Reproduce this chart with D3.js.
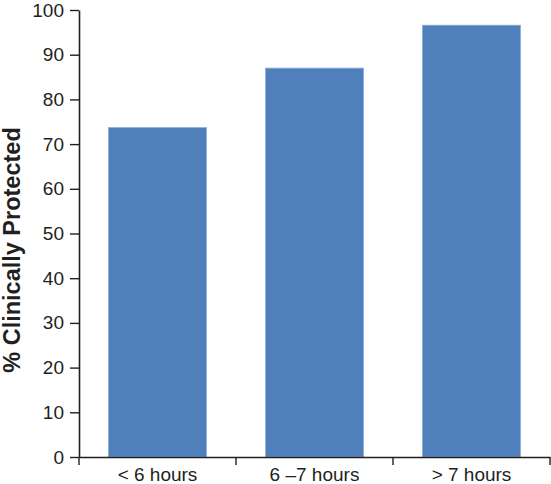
<!DOCTYPE html>
<html>
<head>
  <title>Clinically Protected</title>
  <script src="https://d3js.org/d3.v7.min.js"></script>
  <style>
    body { margin: 0; background: #fff; }
    text { font-family: "Liberation Sans", Arial, sans-serif; fill: #231f20; }
  </style>
</head>
<body>
  <div id="chart"></div>
  <script>
    // Data
    const categories = ["< 6 hours", "6 \u20137 hours", "> 7 hours"];
    const protectedPct = [73.7, 87.0, 96.6];
    const yTicks = [0, 10, 20, 30, 40, 50, 60, 70, 80, 90, 100];
    const yTitle = "% Clinically Protected";

    const width = 551, height = 484;
    const plotLeft = 79, plotRight = 550, plotTop = 10, plotBottom = 457;

    const svg = d3.select("#chart")
      .append("svg")
      .attr("width", width)
      .attr("height", height);

    const x = d3.scaleBand()
      .domain(categories)
      .range([plotLeft, plotRight])
      .paddingInner(0.375)
      .paddingOuter(0.1875);

    const y = d3.scaleLinear()
      .domain([0, 100])
      .range([plotBottom, plotTop]);

    // Bars
    svg.selectAll(".bar")
      .data(protectedPct)
      .enter()
      .append("rect")
      .attr("class", "bar")
      .attr("x", (d, i) => x(categories[i]))
      .attr("width", x.bandwidth())
      .attr("y", d => y(d))
      .attr("height", d => y(0) - y(d))
      .attr("fill", "#4f80bc")
      .attr("stroke", "#8fb0d8")
      .attr("stroke-width", 0.8);

    // Y axis
    const yAxis = svg.append("g")
      .attr("transform", `translate(${plotLeft},0)`)
      .call(d3.axisLeft(y).tickValues(yTicks).tickSize(9).tickPadding(6).tickSizeOuter(0));
    yAxis.select(".domain").attr("stroke", "#231f20").attr("stroke-width", 1.6);
    yAxis.selectAll(".tick line").attr("stroke", "#231f20").attr("stroke-width", 1.4);
    yAxis.selectAll(".tick text")
      .style("font-size", "19px")
      .attr("fill", "#231f20");

    // X axis: labels centred under bars, tick marks at band boundaries
    const xAxis = svg.append("g")
      .attr("transform", `translate(0,${plotBottom})`)
      .call(d3.axisBottom(x).tickSize(0).tickPadding(11).tickSizeOuter(0));
    xAxis.select(".domain").attr("stroke", "#231f20").attr("stroke-width", 1.6);
    xAxis.selectAll(".tick text")
      .style("font-size", "19px")
      .attr("fill", "#231f20");

    const bounds = d3.range(categories.length + 1).map(i => x.range()[0] + i * x.step());
    xAxis.selectAll(".bound")
      .data(bounds)
      .enter()
      .append("line")
      .attr("class", "bound")
      .attr("x1", d => d)
      .attr("x2", d => d)
      .attr("y1", 0)
      .attr("y2", 8)
      .attr("stroke", "#231f20")
      .attr("stroke-width", 1.4);

    // Y title
    svg.append("text")
      .attr("transform", "translate(20,250) rotate(-90)")
      .attr("text-anchor", "middle")
      .style("font-size", "23.5px")
      .style("font-weight", "bold")
      .attr("fill", "#000")
      .text(yTitle);
  </script>
</body>
</html>
